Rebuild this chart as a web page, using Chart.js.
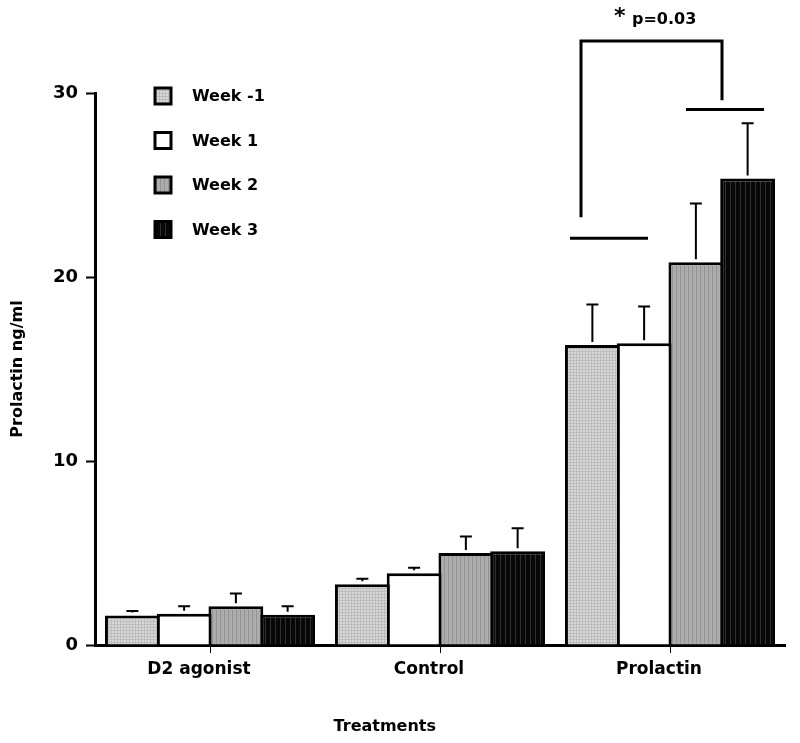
<!DOCTYPE html>
<html>
<head>
<meta charset="utf-8">
<script src="https://cdn.jsdelivr.net/npm/chart.js@4.4.1/dist/chart.umd.min.js"></script>
<style>
  html, body { margin: 0; padding: 0; background: #fff; }
  #wrap { width: 800px; height: 743px; position: relative; }
</style>
</head>
<body>
<div id="wrap"><canvas id="chart" width="800" height="743"></canvas></div>
<script>
// Data
const categories = ['D2 agonist', 'Control', 'Prolactin'];
const weekLabels = ['Week -1', 'Week 1', 'Week 2', 'Week 3'];
const weekMinus1 = [1.6, 3.3, 16.3];
const week1 = [1.7, 3.9, 16.4];
const week2 = [2.1, 5.0, 20.8];
const week3 = [1.65, 5.1, 25.35];
const errMinus1 = [0.25, 0.3, 2.2];
const err1 = [0.4, 0.3, 2.0];
const err2 = [0.7, 0.9, 3.2];
const err3 = [0.45, 1.25, 3.0];
const yTicks = [0, 10, 20, 30];
const sigText = 'p=0.03';

const FONT = '"DejaVu Sans", sans-serif';

// Fill patterns
function makePattern(kind) {
    const c = document.createElement('canvas');
    const ctx = c.getContext('2d');
    if (kind === 'grid') {
        c.width = 3; c.height = 3;
        ctx.fillStyle = '#d8d8d8'; ctx.fillRect(0, 0, 3, 3);
        ctx.fillStyle = '#bdbdbd'; ctx.fillRect(0, 0, 1, 3); ctx.fillRect(0, 0, 3, 1);
    } else if (kind === 'white') {
        c.width = 2; c.height = 2;
        ctx.fillStyle = '#fff'; ctx.fillRect(0, 0, 2, 2);
    } else if (kind === 'gray') {
        c.width = 4; c.height = 4;
        ctx.fillStyle = '#acacac'; ctx.fillRect(0, 0, 4, 4);
        ctx.fillStyle = '#949494'; ctx.fillRect(0, 0, 1, 4);
    } else {
        c.width = 5; c.height = 5;
        ctx.fillStyle = '#080808'; ctx.fillRect(0, 0, 5, 5);
        ctx.fillStyle = '#303030'; ctx.fillRect(0, 0, 1, 5);
    }
    return ctx.createPattern(c, 'repeat');
}
const fills = [makePattern('grid'), makePattern('white'), makePattern('gray'), makePattern('black')];
const seriesValues = [weekMinus1, week1, week2, week3];
const seriesErrors = [errMinus1, err1, err2, err3];

// Upper error bars
const errorBars = {
    id: 'errorBars',
    afterDatasetsDraw(chart) {
        const ctx = chart.ctx;
        const y = chart.scales.y;
        ctx.save();
        ctx.strokeStyle = '#000';
        ctx.lineWidth = 2;
        chart.data.datasets.forEach((ds, i) => {
            chart.getDatasetMeta(i).data.forEach((bar, j) => {
                const top = y.getPixelForValue(seriesValues[i][j] + seriesErrors[i][j]);
                ctx.beginPath();
                ctx.moveTo(bar.x, bar.y - 3);
                ctx.lineTo(bar.x, top);
                ctx.moveTo(bar.x - 6, top);
                ctx.lineTo(bar.x + 6, top);
                ctx.stroke();
            });
        });
        ctx.restore();
    }
};

// Legend drawn inside the plot, plus the x axis title (sits left of centre)
const legendBox = {
    id: 'legendBox',
    afterDraw(chart) {
        const ctx = chart.ctx;
        ctx.save();
        ctx.font = 'bold 16px ' + FONT;
        ctx.textBaseline = 'middle';
        weekLabels.forEach((label, i) => {
            const cy = 96 + i * 44.5;
            ctx.fillStyle = fills[i];
            ctx.fillRect(155, cy - 8, 16, 16);
            ctx.lineWidth = 3;
            ctx.strokeStyle = '#000';
            ctx.strokeRect(155, cy - 8, 16, 16);
            ctx.fillStyle = '#000';
            ctx.fillText(label, 192, cy + 1);
        });
        const area = chart.chartArea;
        ctx.textAlign = 'center';
        ctx.fillText('Treatments', area.left + (area.right - area.left) * 0.42, 727);
        ctx.restore();
    }
};

// Significance bracket between Prolactin week -1/1 and week 2/3
const sigBracket = {
    id: 'sigBracket',
    afterDraw(chart) {
        const ctx = chart.ctx;
        const x = chart.scales.x;
        const y = chart.scales.y;
        const cx = x.getPixelForValue(2);
        ctx.save();
        ctx.strokeStyle = '#000';
        ctx.lineWidth = 3;
        ctx.beginPath();
        ctx.moveTo(cx - 100, y.getPixelForValue(22.1));
        ctx.lineTo(cx - 22, y.getPixelForValue(22.1));
        ctx.moveTo(cx + 16, y.getPixelForValue(29.1));
        ctx.lineTo(cx + 94, y.getPixelForValue(29.1));
        ctx.moveTo(cx - 89, y.getPixelForValue(23.25));
        ctx.lineTo(cx - 89, y.getPixelForValue(32.82));
        ctx.lineTo(cx + 52, y.getPixelForValue(32.82));
        ctx.lineTo(cx + 52, y.getPixelForValue(29.6));
        ctx.stroke();
        ctx.fillStyle = '#000';
        ctx.textBaseline = 'middle';
        ctx.font = 'bold 22px ' + FONT;
        ctx.fillText('*', cx - 56, y.getPixelForValue(34.2) + 2);
        ctx.font = 'bold 16px ' + FONT;
        ctx.fillText(sigText, cx - 38, y.getPixelForValue(34.0));
        ctx.restore();
    }
};

new Chart(document.getElementById('chart'), {
    type: 'bar',
    data: {
        labels: categories,
        datasets: weekLabels.map((label, i) => ({
            label: label,
            data: seriesValues[i],
            backgroundColor: fills[i],
            borderColor: '#000',
            borderWidth: 3,
            inflateAmount: 0
        }))
    },
    options: {
        responsive: false,
        animation: false,
        datasets: { bar: { categoryPercentage: 0.9, barPercentage: 1.06 } },
        layout: { padding: { top: 93, right: 15, left: 0, bottom: 0 } },
        plugins: {
            legend: { display: false },
            tooltip: { enabled: false }
        },
        scales: {
            x: {
                grid: {
                    offset: false,
                    drawOnChartArea: false,
                    drawTicks: true,
                    tickLength: 8,
                    tickColor: '#000',
                    tickWidth: 1
                },
                border: { color: '#000', width: 3 },
                ticks: {
                    color: '#000',
                    font: { family: FONT, size: 17, weight: 'bold' },
                    padding: 6,
                    labelOffset: -11,
                    maxRotation: 0
                },
                afterFit(scale) { scale.height = 98; }
            },
            y: {
                min: 0,
                max: 30,
                afterBuildTicks(scale) { scale.ticks = yTicks.map(v => ({ value: v })); },
                grid: {
                    drawOnChartArea: false,
                    drawTicks: true,
                    tickLength: 9,
                    tickColor: '#000',
                    tickWidth: 2
                },
                border: { color: '#000', width: 3 },
                ticks: {
                    color: '#000',
                    font: { family: FONT, size: 18, weight: 'bold' },
                    padding: 8
                },
                title: {
                    display: true,
                    text: 'Prolactin ng/ml',
                    color: '#000',
                    font: { family: FONT, size: 16, weight: 'bold' },
                    padding: { top: 8, bottom: 0 }
                },
                afterFit(scale) { scale.width = 95; }
            }
        }
    },
    plugins: [errorBars, legendBox, sigBracket]
});
</script>
</body>
</html>
